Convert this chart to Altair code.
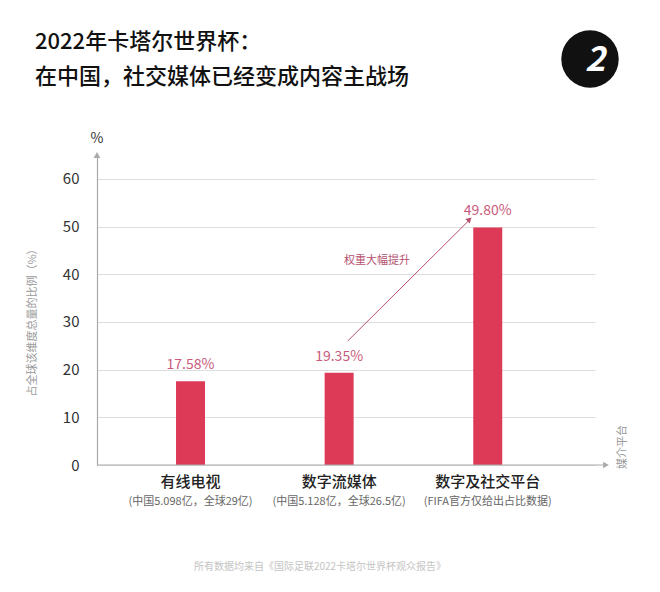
import altair as alt
import pandas as pd

# ---- data ----
categories = ["有线电视", "数字流媒体", "数字及社交平台"]
notes = ["(中国5.098亿，全球29亿)", "(中国5.128亿，全球26.5亿)", "(FIFA官方仅给出占比数据)"]
shares = [17.58, 19.35, 49.80]
share_labels = ["17.58%", "19.35%", "49.80%"]
y_ticks = [0, 10, 20, 30, 40, 50, 60]
title_lines = ["2022年卡塔尔世界杯：", "在中国，社交媒体已经变成内容主战场"]
arrow_from = 26.0   # y value where annotation arrow starts
arrow_to = 51.5     # y value where annotation arrow ends

df = pd.DataFrame({"cat": categories, "note": notes, "share": shares, "label": share_labels})

FONT = "Noto Sans CJK SC"
BAR = "#dd3a58"
PINK = "#c95b7c"

W, H = 498, 310

xs = alt.Scale(domain=categories, paddingInner=0.805, paddingOuter=0.578, align=0.46)
ys = alt.Scale(domain=[0, 65], nice=False)

base = alt.Chart(df)

bars = base.mark_bar(color=BAR).encode(
    x=alt.X("cat:N", scale=xs, sort=categories, axis=None),
    y=alt.Y("share:Q", scale=ys,
            axis=alt.Axis(values=y_ticks, title=None, ticks=False, domain=True,
                          domainColor="#aaaaaa", domainWidth=1.2,
                          grid=True, gridColor="#dedede", gridWidth=1,
                          labelFont=FONT, labelFontSize=15, labelColor="#333333",
                          labelPadding=18)),
)

vals = base.mark_text(font=FONT, fontSize=14, color=PINK, baseline="bottom", dy=-9).encode(
    x=alt.X("cat:N", scale=xs, sort=categories),
    y=alt.Y("share:Q", scale=ys),
    text="label:N",
)

main_lbl = base.mark_text(font=FONT, fontSize=15, color="#222222", fontWeight=500, baseline="middle").encode(
    x=alt.X("cat:N", scale=xs, sort=categories),
    y=alt.value(327),
    text="cat:N",
)
sub_lbl = base.mark_text(font=FONT, fontSize=11, color="#666666", baseline="middle").encode(
    x=alt.X("cat:N", scale=xs, sort=categories),
    y=alt.value(347),
    text="note:N",
)

one = alt.Chart(pd.DataFrame({"k": [0]}))

xaxis_line = one.mark_rule(color="#aaaaaa", strokeWidth=1.2).encode(
    x=alt.value(0), x2=alt.value(506), y=alt.value(H))
xaxis_head = one.mark_point(shape="triangle-right", filled=True, color="#aaaaaa", size=45, opacity=1).encode(
    x=alt.value(509), y=alt.value(H))
yaxis_head = one.mark_point(shape="triangle-up", filled=True, color="#aaaaaa", size=45, opacity=1).encode(
    x=alt.value(0), y=alt.value(0))

arrow_df = pd.DataFrame({"y1": [arrow_from], "y2": [arrow_to]})
arrow = alt.Chart(arrow_df).mark_rule(color="#b5506e", strokeWidth=1).encode(
    x=alt.value(250.7), x2=alt.value(373),
    y=alt.Y("y1:Q", scale=ys), y2="y2:Q")
arrow_head = alt.Chart(arrow_df).mark_point(shape="triangle-up", filled=True, color="#b5506e",
                                            size=40, opacity=1, angle=45.6).encode(
    x=alt.value(372.5), y=alt.Y("y2:Q", scale=ys))

def txt(text, x, y, size, color, angle=0, align="center", weight="normal"):
    return one.mark_text(text=text, font=FONT, fontSize=size, color=color, angle=angle,
                         align=align, baseline="middle", fontWeight=weight).encode(
        x=alt.value(x), y=alt.value(y))

annot = txt("权重大幅提升", 280, 106, 11, "#b5506e")
pct = txt("%", 0, -16, 14, "#333333")
ytitle = txt("占全球该维度总量的比例（%）", -64, 165, 11, "#9a9a9a", angle=270)
xtitle = txt("媒介平台", 526, 292, 11, "#9a9a9a", angle=270)
footer = txt("所有数据均来自《国际足联2022卡塔尔世界杯观众报告》", 223, 412, 10, "#c4c4c4")
t1 = txt(title_lines[0], -62, -113, 22, "#111111", align="left", weight=500)
t2 = txt(title_lines[1], -62, -78, 22, "#111111", align="left", weight=500)

logo = one.mark_point(shape="circle", filled=True, color="#111111", size=3300, opacity=1).encode(
    x=alt.value(493), y=alt.value(-96))
logo2 = one.mark_text(text="2", font=FONT, fontSize=34, fontStyle="italic", fontWeight="bold",
                      color="#ffffff", baseline="middle").encode(x=alt.value(498), y=alt.value(-94))

chart = alt.layer(
    bars, vals, main_lbl, sub_lbl, xaxis_line, xaxis_head, yaxis_head,
    arrow, arrow_head, annot, pct, ytitle, xtitle, footer, t1, t2, logo, logo2
).properties(
    width=W, height=H,
    autosize=alt.AutoSizeParams(type="none"),
    padding={"left": 89, "top": 147, "right": 57, "bottom": 119},
    background="#ffffff",
).configure_view(stroke=None)

chart.save("out.html", embed_options={"renderer": "svg", "actions": False})
